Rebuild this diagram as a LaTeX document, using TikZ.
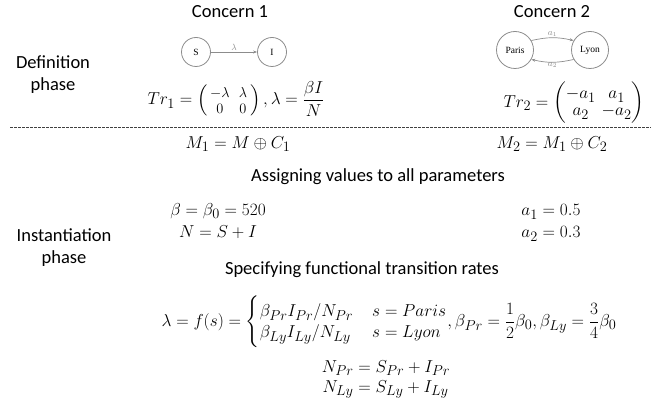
\documentclass[tikz,border=0pt]{standalone}
\usepackage{amsmath}
\usepackage{fontspec}
\setmainfont{Carlito}
\newfontfamily\serifnode{Liberation Serif}
\usetikzlibrary{arrows.meta}
\definecolor{stgray}{HTML}{8C8C8C}
\begin{document}
\begin{tikzpicture}[x=1pt,y=-1pt,
  lbl/.style={font=\fontsize{18.5}{22}\selectfont, align=center, inner sep=0pt},
  eq/.style={font=\fontsize{19}{21}\selectfont, inner sep=0pt},
  stnode/.style={circle, draw=stgray, line width=0.8pt, minimum size=29pt, inner sep=0pt, font=\fontsize{9.5}{10}\serifnode},
  bigst/.style={stnode, minimum size=37pt},
  conn/.style={draw=stgray, line width=0.7pt, -{Stealth[length=4pt,width=3pt]}},
  small/.style={font=\fontsize{9}{10}\selectfont, text=stgray, inner sep=0.5pt}
]
\useasboundingbox (0,0) rectangle (651,406);

% headings
\node[lbl] (c1) at (230,12) {Concern 1};
\node[lbl] (c2) at (552,12) {Concern 2};
\node[lbl] (def) at (53,75) {Definition\\phase};
\node[lbl] (inst) at (64,248) {Instantiation\\phase};

% concern 1 diagram
\node[stnode] (S) at (196,52) {S};
\node[stnode] (I) at (272,52) {I};
\draw[conn] (S) -- node[small, above=1pt] {$\lambda$} (I);

% concern 2 diagram
\node[bigst] (P) at (515,50) {Paris};
\node[bigst] (L) at (590,50) {Lyon};
\draw[conn] (P.30) to[bend left=13] node[small, above] {$a_1$} (L.150);
\draw[conn] (L.-150) to[bend left=13] node[small, below] {$a_2$} (P.-30);

% transition matrices
\node[eq] (tr1) at (236,99) {$Tr_1 = \left(\begin{smallmatrix}-\lambda & \;\lambda\\[3pt] 0 & \;0\end{smallmatrix}\right), \lambda = \dfrac{\beta I}{N}$};
\node[eq] (tr2) at (574,103) {$\setlength{\arraycolsep}{3pt}Tr_2 = \begin{pmatrix}-a_1 & a_1\\[-4pt] a_2 & -a_2\end{pmatrix}$};

% separator
\coordinate (dl) at (10,127);
\coordinate (dr) at (651,127);
\draw[line width=0.6pt, dash pattern=on 2.5pt off 1.5pt, black!75] (dl) -- (dr);

% compositions
\node[eq] (m1) at (238,144) {$M_1 = M \oplus C_1$};
\node[eq] (m2) at (552,144) {$M_2 = M_1 \oplus C_2$};

\node[lbl] (assign) at (378,177) {Assigning values to all parameters};

\node[eq] (beta) at (218,211) {$\beta = \beta_0 = 520$};
\node[eq] (nsi) at (218,232) {$N = S + I$};
\node[eq] (a1) at (551,212) {$a_1 = 0.5$};
\node[eq] (a2) at (551,234) {$a_2 = 0.3$};

\node[lbl] (spec) at (362,270) {Specifying functional transition rates};

\node[eq] (lam) at (389,322) {$\lambda = f(s) = \begin{cases}\beta_{Pr}I_{Pr}/N_{Pr} & s = Paris\\[-4pt] \beta_{Ly}I_{Ly}/N_{Ly} & s = Lyon\end{cases}\!, \beta_{Pr} = \dfrac{1}{2}\beta_0, \beta_{Ly} = \dfrac{3}{4}\beta_0$};

\node[eq] (npr) at (386,378) {$\begin{aligned} N_{Pr} &= S_{Pr} + I_{Pr}\\[-4pt] N_{Ly} &= S_{Ly} + I_{Ly}\end{aligned}$};
\end{tikzpicture}
\end{document}
